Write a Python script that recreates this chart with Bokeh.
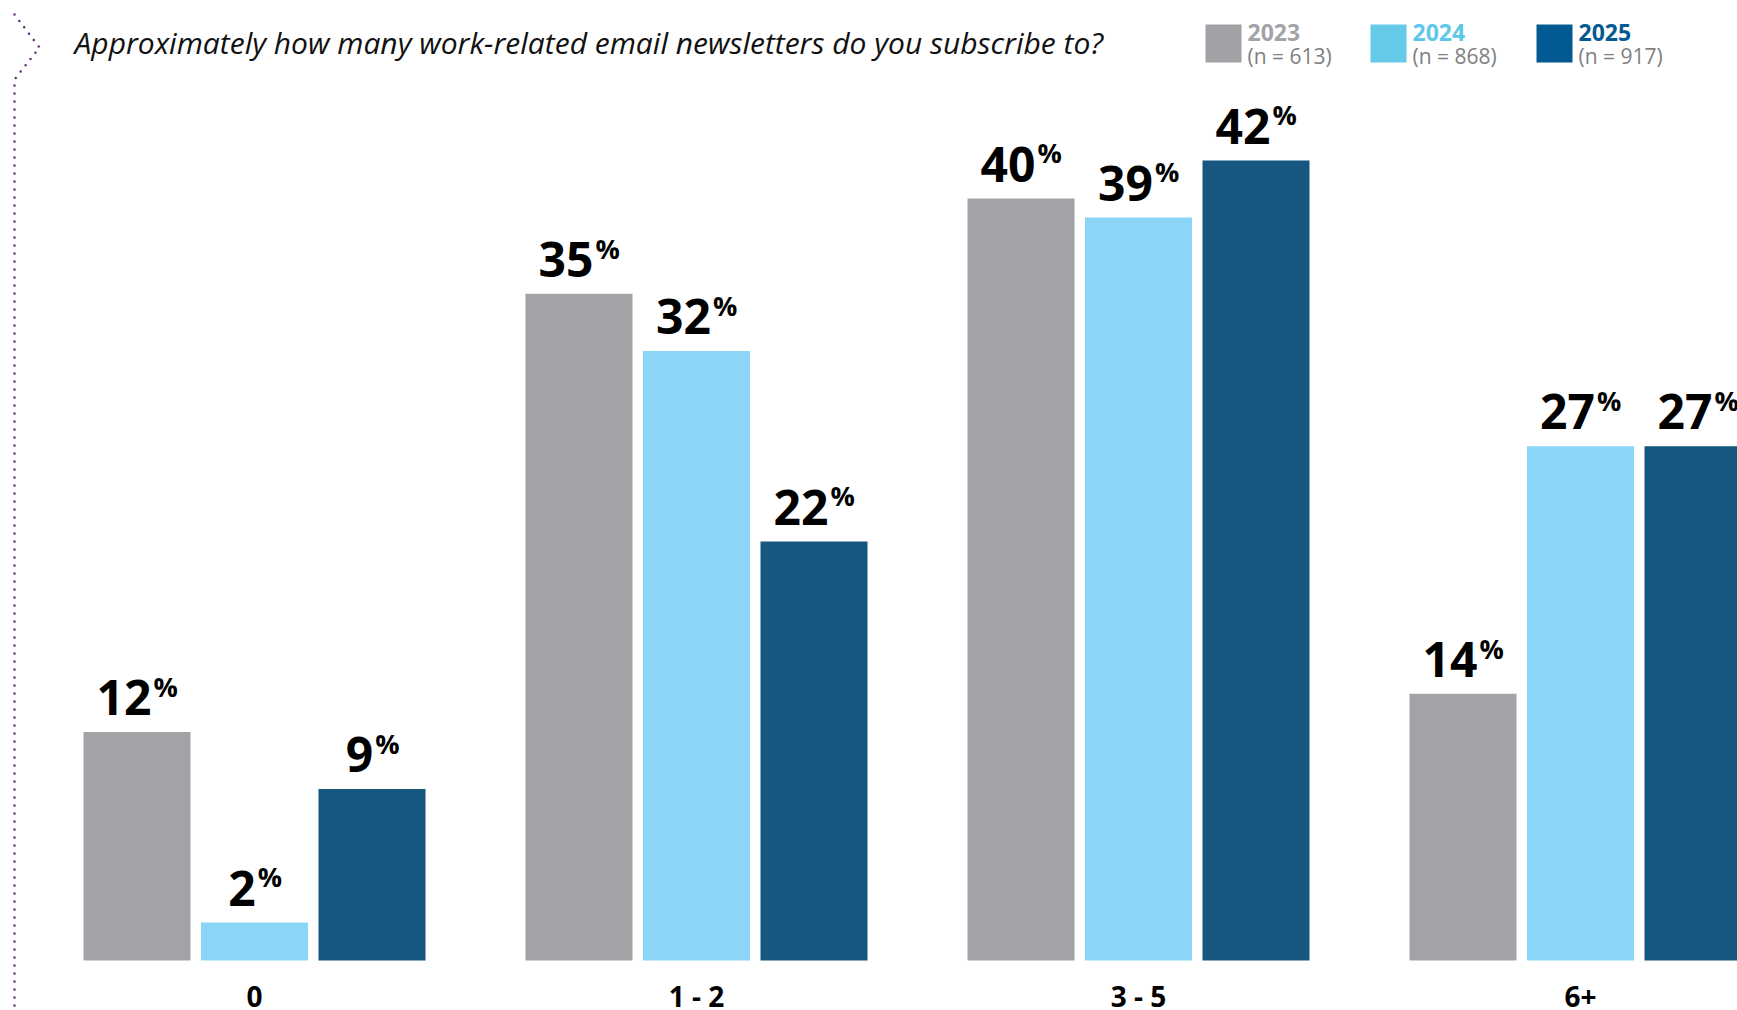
from bokeh.plotting import figure
from bokeh.models import Range1d, ColumnDataSource
from bokeh.transform import dodge
from bokeh.core.properties import value
from bokeh.embed import file_html
from bokeh.resources import INLINE

# ---------------- data ----------------
categories = ["0", "1 - 2", "3 - 5", "6+"]
years = ["2023", "2024", "2025"]
sample_sizes = [613, 868, 917]
share_2023 = [12, 35, 40, 14]
share_2024 = [2, 32, 39, 27]
share_2025 = [9, 22, 42, 27]
title_text = "Approximately how many work-related email newsletters do you subscribe to?"

# ---------------- layout / style ----------------
W, H = 1737, 1010
FONT = "Open Sans"
PX_PER_PCT = 19.05
BASE_PX = 960
GROUP_PX = 442
FIRST_GROUP_CENTER_PX = 254
BAR_PITCH = 117.5 / GROUP_PX
BAR_W = 107 / GROUP_PX
BASELINE_FIX = 0.36  # svg text baseline correction (fraction of font size)

bar_colors = ["#a2a3a7", "#8bd5f6", "#15577f"]
legend_colors = ["#a1a2a6", "#65cbe9", "#035a93"]
year_text_colors = ["#a3a3a8", "#5ec8e8", "#035a93"]
n_text_color = "#7f7f7f"
dot_color = "#6a2c78"

x_range = Range1d(-FIRST_GROUP_CENTER_PX / GROUP_PX, (W - FIRST_GROUP_CENTER_PX) / GROUP_PX)
y_range = Range1d(-(H - BASE_PX) / PX_PER_PCT, BASE_PX / PX_PER_PCT)

p = figure(width=W, height=H, x_range=x_range, y_range=y_range,
           output_backend="svg", toolbar_location=None,
           x_axis_location=None, y_axis_location=None, min_border=0)
p.min_border_left = p.min_border_right = p.min_border_top = p.min_border_bottom = 0
p.extra_x_ranges = {"px": Range1d(0, W)}
p.extra_y_ranges = {"px": Range1d(H, 0)}
p.grid.visible = False
p.outline_line_color = None
p.background_fill_color = "white"
p.border_fill_color = "white"

# ---------------- bars and value labels ----------------
series = [share_2023, share_2024, share_2025]
NUM_FS, PCT_FS = 48, 27
DIGIT_PX = 26.5
PCT_PX = 24
for j, vals in enumerate(series):
    off = (j - (len(series) - 1) / 2) * BAR_PITCH
    nums = [str(v) for v in vals]
    num_xoff = [len(s) * DIGIT_PX / 2 - PCT_PX / 2 for s in nums]
    pct_xoff = [x + 2 for x in num_xoff]
    src = ColumnDataSource(dict(idx=list(range(len(categories))), val=vals, num=nums,
                                pct=["%"] * len(vals), nx=num_xoff, pxo=pct_xoff))
    xs = dodge("idx", off)
    p.vbar(x=xs, top="val", bottom=0, width=BAR_W, fill_color=bar_colors[j],
           line_color=None, source=src)
    p.text(x=xs, y="val", text="num", x_offset="nx",
           y_offset=-(17 + BASELINE_FIX * NUM_FS),
           text_align="right", text_baseline="alphabetic",
           text_font=value(FONT), text_font_style="bold", text_font_size=f"{NUM_FS}px",
           text_color="#000000", source=src)
    p.text(x=xs, y="val", text="pct", x_offset="pxo",
           y_offset=-(36 + BASELINE_FIX * PCT_FS),
           text_align="left", text_baseline="alphabetic",
           text_font=value(FONT), text_font_style="bold", text_font_size=f"{PCT_FS}px",
           text_color="#000000", source=src)

# ---------------- category labels ----------------
CAT_FS = 28
cat_src = ColumnDataSource(dict(idx=list(range(len(categories))), name=categories))
p.text(x="idx", y=0, text="name", y_offset=46 - BASELINE_FIX * CAT_FS, text_align="center",
       text_baseline="alphabetic", text_font=value(FONT), text_font_style="bold",
       text_font_size=f"{CAT_FS}px", text_color="#000000", source=cat_src)

# ---------------- title ----------------
TITLE_FS = 30
p.text(x=[74], y=[53 - BASELINE_FIX * TITLE_FS], text=[title_text],
       x_range_name="px", y_range_name="px",
       text_align="left", text_baseline="alphabetic", text_font=value(FONT),
       text_font_style="italic", text_font_size=f"{TITLE_FS}px", text_color="#111111")

# ---------------- legend ----------------
leg_left = [1205, 1370, 1536]
SQ = 36
YEAR_FS, N_FS = 23, 21
leg_src = ColumnDataSource(dict(
    left=leg_left, right=[l + SQ for l in leg_left], top=[24] * 3, bottom=[62] * 3,
    color=legend_colors, tx=[l + SQ + 6 for l in leg_left], year=years,
    ycol=year_text_colors, n=[f"(n = {n})" for n in sample_sizes]))
p.quad(left="left", right="right", top="top", bottom="bottom", fill_color="color",
       line_color=None, source=leg_src, x_range_name="px", y_range_name="px")
p.text(x="tx", y=40 - BASELINE_FIX * YEAR_FS, text="year", text_color="ycol",
       text_font=value(FONT), text_font_style="bold", text_font_size=f"{YEAR_FS}px",
       text_baseline="alphabetic", source=leg_src, x_range_name="px", y_range_name="px")
p.text(x="tx", y=63 - BASELINE_FIX * N_FS, text="n", text_color=n_text_color,
       text_font=value(FONT), text_font_size=f"{N_FS}px", text_baseline="alphabetic",
       source=leg_src, x_range_name="px", y_range_name="px")

# ---------------- dotted decoration on the left ----------------
p.line(x=[14, 39, 14, 14], y=[14, 47, 79, H], x_range_name="px", y_range_name="px",
       line_color=dot_color, line_width=2.5, line_dash="0 8", line_cap="round")

open("out.html", "w").write(file_html(p, INLINE))
